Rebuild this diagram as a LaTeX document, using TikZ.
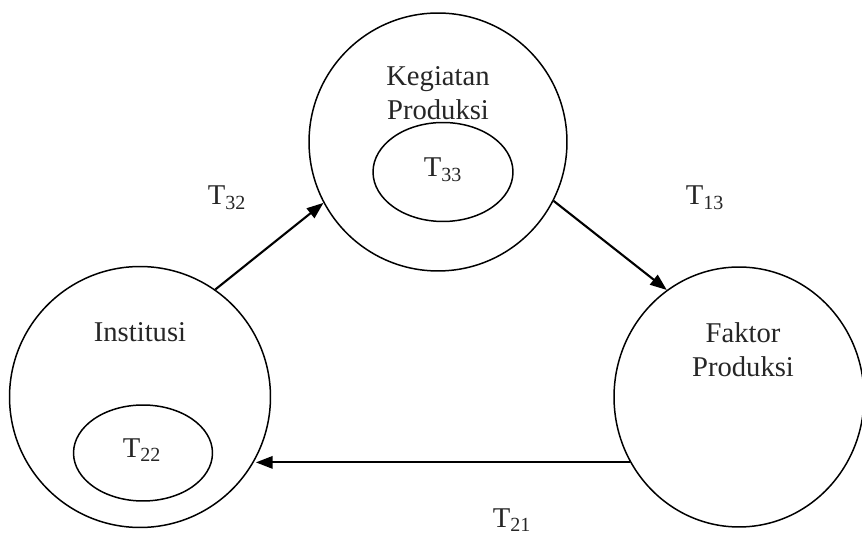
\documentclass[tikz,border=0pt]{standalone}
\usepackage{fontspec}
\setmainfont{Liberation Serif}
\usetikzlibrary{arrows.meta,shapes.geometric}
\begin{document}
\begin{tikzpicture}[x=0.02cm,y=0.02cm,
  ring/.style={draw,line width=0.85pt,inner sep=0pt},
  txt/.style={font=\fontsize{16.3}{19.5}\selectfont,align=center,inner sep=0pt,text=black!85},
  flow/.style={line width=1.2pt,-{Triangle[length=9.5pt,width=7pt]}}]
\useasboundingbox (0,0) rectangle (862,537);
% shapes
\node[ring,circle,minimum size=5.16cm] (K) at (438,395) {};
\node[ring,circle,minimum size=5.22cm] (L) at (140,140) {};
\node[ring,ellipse,minimum width=5.0cm,minimum height=5.2cm] (F) at (739,140) {};
\node[ring,ellipse,minimum width=2.8cm,minimum height=1.98cm] (E33) at (443,365) {};
\node[ring,ellipse,minimum width=2.78cm,minimum height=1.92cm] (E22) at (143,84) {};
% texts
\node[txt] (tK) at (438,444) {Kegiatan\\Produksi};
\node[txt] (t33) at (443,367) {T\textsubscript{33}};
\node[txt] (tL) at (140,205) {Institusi};
\node[txt] (t22) at (142,87) {T\textsubscript{22}};
\node[txt] (tF) at (743,187) {Faktor\\Produksi};
\node[txt] (t32) at (227,339) {T\textsubscript{32}};
\node[txt] (t13) at (705,339) {T\textsubscript{13}};
\node[txt] (t21) at (512,17) {T\textsubscript{21}};
% connectors
\draw[flow] (L.55.7) -- (K.208.4);
\draw[flow] (K.-27) -- (F.124.4);
\draw[flow] (F.211) -- (F.211 -| L.-28.3);
\end{tikzpicture}
\end{document}
